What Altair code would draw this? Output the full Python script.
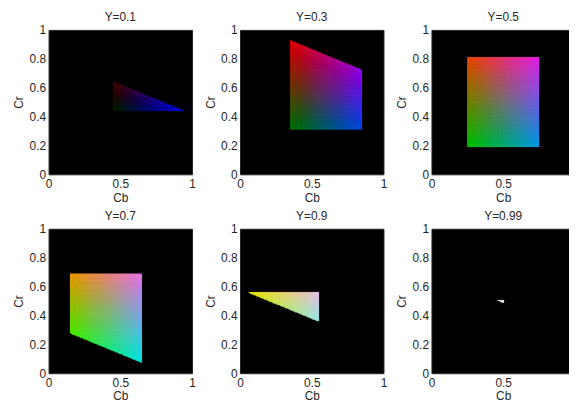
import numpy as np
import pandas as pd
import altair as alt

# Slices of luma shown in the six panels
Y_LEVELS = [0.1, 0.3, 0.5, 0.7, 0.9, 0.99]
TITLES = ["Y=0.1", "Y=0.3", "Y=0.5", "Y=0.7", "Y=0.9", "Y=0.99"]

CHROMA_CENTER = 0.5
CR_TO_R = 1.6
CB_TO_B = 2.0
CB_TO_G = 0.335
CR_TO_G = 0.82

X_TICKS = [0, 0.5, 1]
Y_TICKS = [0, 0.2, 0.4, 0.6, 0.8, 1]

N = 180  # cells per unit of Cb / Cr
STEP = 1.0 / N
centers = (np.arange(N) + 0.5) * STEP
CB, CR = np.meshgrid(centers, centers)

FONT = "Liberation Sans"
TXT = "#262626"
FS = 12


def slice_frame(yv):
    cb = CB - CHROMA_CENTER
    cr = CR - CHROMA_CENTER
    R = yv + CR_TO_R * cr
    G = yv - CB_TO_G * cb - CR_TO_G * cr
    B = yv + CB_TO_B * cb
    m = (R >= 0) & (R <= 1) & (G >= 0) & (G <= 1) & (B >= 0) & (B <= 1)
    r = np.round(R[m] * 255).astype(int)
    g = np.round(G[m] * 255).astype(int)
    b = np.round(B[m] * 255).astype(int)
    cols = ["#%02x%02x%02x" % (a, c, d) for a, c, d in zip(r, g, b)]
    return pd.DataFrame({
        "cb0": np.round(CB[m] - STEP / 2, 5), "cb1": np.round(CB[m] + STEP / 2, 5),
        "cr0": np.round(CR[m] - STEP / 2, 5), "cr1": np.round(CR[m] + STEP / 2, 5),
        "color": cols,
    })


def panel(yv, title):
    df = slice_frame(yv)
    sc = alt.Scale(domain=[0, 1], nice=False, zero=False)
    return alt.Chart(df).mark_rect(strokeWidth=0.25).encode(
        x=alt.X("cb0:Q", scale=sc,
                axis=alt.Axis(values=X_TICKS, format="~g", title="Cb",
                              labelPadding=4, titlePadding=2,
                              labelFlush=False,
                              minExtent=16, maxExtent=16)),
        x2="cb1:Q",
        y=alt.Y("cr0:Q", scale=sc,
                axis=alt.Axis(values=Y_TICKS, format="~g", title="Cr",
                              labelPadding=3, titlePadding=3,
                              labelFlush=False,
                              minExtent=20, maxExtent=20)),
        y2="cr1:Q",
        color=alt.Color("color:N", scale=None),
        stroke=alt.Stroke("color:N", scale=None),
    ).properties(
        width=145, height=146,
        title=alt.TitleParams(title, fontSize=FS, fontWeight="normal",
                              font=FONT, color=TXT, offset=0),
    )


panels = [panel(y, t) for y, t in zip(Y_LEVELS, TITLES)]

chart = alt.vconcat(
    alt.hconcat(*panels[:3], spacing=7.5),
    alt.hconcat(*panels[3:], spacing=7.5),
    spacing=5,
).properties(
    padding={"left": 4, "top": 0, "right": -10, "bottom": 0}
).configure_view(
    fill="black", stroke="#262626", strokeWidth=1
).configure_axis(
    domain=False, ticks=False, tickSize=0, grid=False,
    labelFont=FONT, labelFontSize=FS, labelColor=TXT,
    titleFont=FONT, titleFontSize=FS, titleFontWeight="normal",
    titleColor=TXT,
)

chart.save("out.html", embed_options={"renderer": "svg", "actions": False})
